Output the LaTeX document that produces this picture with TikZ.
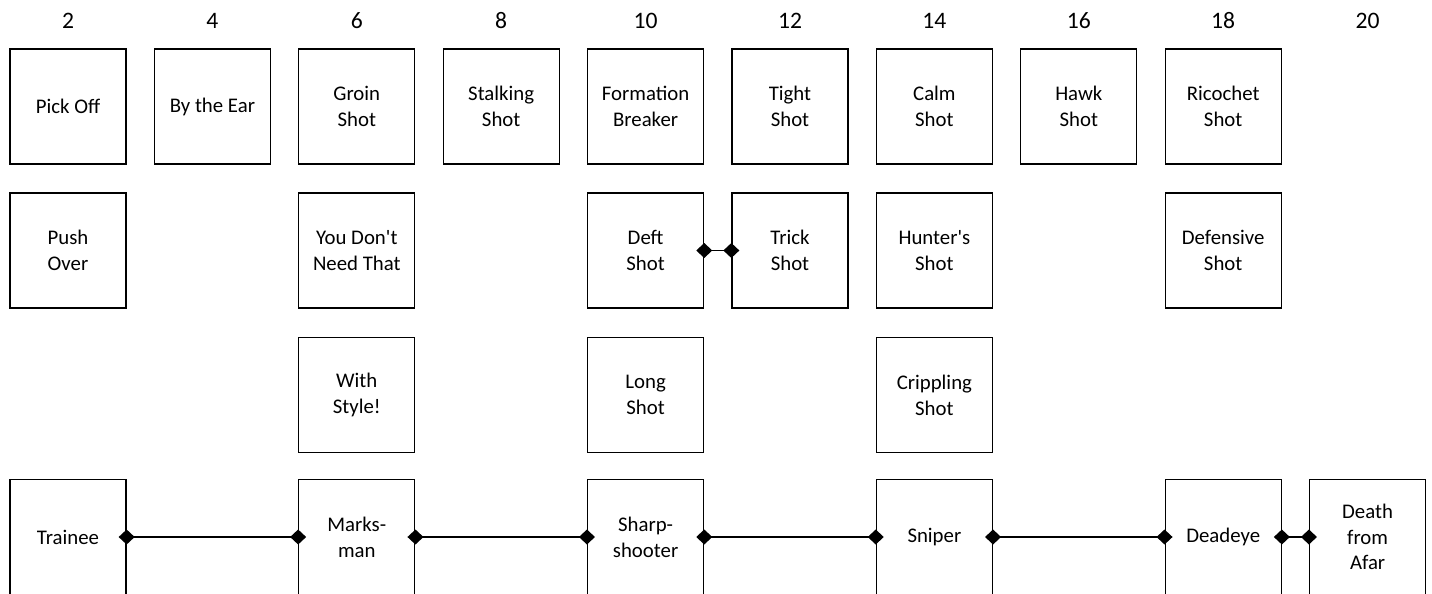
\documentclass[tikz,border=0pt]{standalone}
\usepackage{fontspec}
\setmainfont{Carlito}
\usetikzlibrary{arrows.meta}

\begin{document}
\begin{tikzpicture}[x=0.5pt,y=-0.5pt,
        skill/.style={draw, line width=0.65pt, minimum width=58pt, minimum height=57.5pt, inner sep=0pt, align=center, font=\fontsize{10.4}{12.9}\selectfont},
        lvlnum/.style={font=\fontsize{11.8}{14}\selectfont},
        link/.style={line width=0.8pt, {Diamond[length=8pt,width=7.5pt]}-{Diamond[length=8pt,width=7.5pt]}, shorten <=-4pt, shorten >=-4pt}]
                \useasboundingbox (0,0) rectangle (1432,594);
                \foreach \lvl in {2,4,...,20}
                    \node[lvlnum] (lvl\lvl) at ({68+72.2*(\lvl-2)},21) {\lvl};
                % row 1
                \node[skill] (pickoff) at (68,106.5) {Pick Off};
                \node[skill] (byear) at (212.4,106.5) {By the Ear};
                \node[skill] (groin) at (356.8,106.5) {Groin\\Shot};
                \node[skill] (stalking) at (501.2,106.5) {Stalking\\Shot};
                \node[skill] (formation) at (645.6,106.5) {Formation\\Breaker};
                \node[skill] (tight) at (790,106.5) {Tight\\Shot};
                \node[skill] (calm) at (934.4,106.5) {Calm\\Shot};
                \node[skill] (hawk) at (1078.8,106.5) {Hawk\\Shot};
                \node[skill] (ricochet) at (1223.2,106.5) {Ricochet\\Shot};
                % row 2
                \node[skill] (pushover) at (68,250.5) {Push\\Over};
                \node[skill] (dontneed) at (356.8,250.5) {You Don\textquotesingle t\\Need That};
                \node[skill] (deft) at (645.6,250.5) {Deft\\Shot};
                \node[skill] (trick) at (790,250.5) {Trick\\Shot};
                \node[skill] (hunters) at (934.4,250.5) {Hunter\textquotesingle s\\Shot};
                \node[skill] (defensive) at (1223.2,250.5) {Defensive\\Shot};
                % row 3
                \node[skill] (withstyle) at (356.8,395) {With\\Style!};
                \node[skill] (long) at (645.6,395) {Long\\Shot};
                \node[skill] (crippling) at (934.4,395) {Crippling\\Shot};
                % ranks
                \node[skill] (trainee) at (68,537) {Trainee};
                \node[skill] (marksman) at (356.8,537) {Marks-\\man};
                \node[skill] (sharpshooter) at (645.6,537) {Sharp-\\shooter};
                \node[skill] (sniper) at (934.4,537) {Sniper};
                \node[skill] (deadeye) at (1223.2,537) {Deadeye};
                \node[skill] (death) at (1367.6,537) {Death\\from\\Afar};
                \draw[link] (deft) -- (trick);
                \draw[link] (trainee) -- (marksman);
                \draw[link] (marksman) -- (sharpshooter);
                \draw[link] (sharpshooter) -- (sniper);
                \draw[link] (sniper) -- (deadeye);
                \draw[link] (deadeye) -- (death);
            \end{tikzpicture}
\end{document}
